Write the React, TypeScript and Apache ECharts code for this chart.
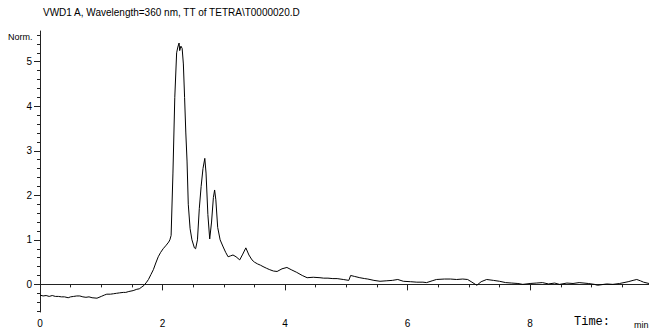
import React, { useEffect, useRef } from "react";
import * as echarts from "echarts";

const titleText = "VWD1 A, Wavelength=360 nm, TT of TETRA\\T0000020.D";
const yUnitLabel = "Norm.";
const xUnitLabel = "Time:";
const xUnitSuffix = "min";

const xLabelValues = [0, 2, 4, 6, 8];
const xMinorTicks = [0, 0.5, 1, 1.5, 2, 2.5, 3, 3.5, 4, 4.5, 5, 5.5, 6, 6.5, 7, 7.5, 8, 8.5, 9, 9.5];
const yLabelValues = [0, 1, 2, 3, 4, 5];
const yMinorTicks = [-0.6, -0.4, -0.2, 0, 0.2, 0.4, 0.6, 0.8, 1, 1.2, 1.4, 1.6, 1.8, 2, 2.2, 2.4, 2.6, 2.8, 3, 3.2, 3.4, 3.6, 3.8, 4, 4.2, 4.4, 4.6, 4.8, 5, 5.2, 5.4, 5.6];

const timeMin = [
  0.0, 0.05, 0.1, 0.15, 0.2, 0.25, 0.3, 0.35, 0.4, 0.46, 0.5, 0.55, 0.6, 0.65, 0.7, 0.75, 0.8, 0.85, 0.93, 1.0,
  1.05, 1.09, 1.15, 1.2, 1.25, 1.3, 1.36, 1.4, 1.45, 1.52, 1.58, 1.62, 1.65, 1.7, 1.74, 1.77, 1.81, 1.85, 1.89, 1.93,
  1.97, 2.01, 2.06, 2.1, 2.12, 2.14, 2.17, 2.2, 2.23, 2.25, 2.27, 2.28, 2.3, 2.32, 2.34, 2.36, 2.38, 2.4, 2.42, 2.45,
  2.48, 2.52, 2.54, 2.57, 2.6, 2.63, 2.66, 2.69, 2.71, 2.74, 2.77, 2.8, 2.83, 2.85, 2.87, 2.9, 2.94, 2.99, 3.03, 3.07,
  3.11, 3.15, 3.2, 3.26, 3.31, 3.36, 3.41, 3.46, 3.5, 3.55, 3.6, 3.64, 3.7, 3.75, 3.81, 3.87, 3.95, 4.03, 4.1, 4.19,
  4.28, 4.36, 4.46, 4.57, 4.63, 4.7, 4.78, 4.85, 4.95, 5.04, 5.07, 5.13, 5.22, 5.3, 5.35, 5.45, 5.55, 5.65, 5.75, 5.84,
  5.93, 6.05, 6.15, 6.25, 6.31, 6.4, 6.47, 6.6, 6.7, 6.8, 6.9, 6.98, 7.05, 7.13, 7.2, 7.29, 7.4, 7.5, 7.6, 7.7,
  7.8, 7.88, 8.0, 8.1, 8.2, 8.3, 8.4, 8.48, 8.6, 8.7, 8.8, 8.95, 9.05, 9.1, 9.25, 9.35, 9.46, 9.6, 9.68, 9.74,
  9.8, 9.85, 9.94
];

const signalNorm = [
  -0.24, -0.26, -0.25, -0.27, -0.25, -0.27, -0.27, -0.28, -0.28, -0.3, -0.28, -0.27, -0.26, -0.26, -0.28, -0.29, -0.28, -0.3, -0.31, -0.27,
  -0.24, -0.22, -0.22, -0.21, -0.2, -0.19, -0.18, -0.18, -0.16, -0.14, -0.11, -0.1, -0.07, -0.02, 0.05, 0.11, 0.22, 0.33, 0.48, 0.62,
  0.72, 0.8, 0.88, 0.95, 1.0, 1.1, 2.5, 4.2, 5.2, 5.33, 5.42, 5.25, 5.35, 5.3, 4.95, 4.2, 3.4, 2.77, 1.8, 1.25,
  1.0, 0.82, 0.8, 1.0, 1.7, 2.2, 2.6, 2.83, 2.5, 1.57, 1.02, 1.4, 1.95, 2.12, 1.9, 1.28, 1.0, 0.84, 0.72, 0.62,
  0.64, 0.66, 0.62, 0.55, 0.68, 0.82, 0.66, 0.55, 0.5, 0.46, 0.43, 0.4, 0.36, 0.33, 0.3, 0.29, 0.35, 0.38, 0.33, 0.27,
  0.2, 0.15, 0.16, 0.15, 0.14, 0.14, 0.13, 0.13, 0.11, 0.09, 0.2, 0.18, 0.15, 0.13, 0.12, 0.09, 0.07, 0.08, 0.09, 0.11,
  0.07, 0.06, 0.05, 0.05, 0.04, 0.08, 0.11, 0.12, 0.12, 0.11, 0.12, 0.11, 0.05, -0.02, 0.06, 0.11, 0.09, 0.07, 0.04, 0.03,
  0.02, 0.0, 0.02, 0.03, 0.04, 0.01, 0.03, 0.0, 0.03, 0.02, 0.04, 0.02, 0.0, -0.02, 0.01, 0.0, 0.02, 0.06, 0.09, 0.11,
  0.08, 0.05, 0.02
];

export default function App() {
  const ref = useRef<HTMLDivElement>(null);
  useEffect(() => {
    if (!ref.current) return;
    const chart = echarts.init(ref.current, null, { renderer: "svg" });
    const data = timeMin.map((t, i) => [t, signalNorm[i]]);
    const font = "Liberation Sans, Arial, sans-serif";
    chart.setOption({
      animation: false,
      backgroundColor: "#ffffff",
      grid: { left: 40, right: 0, top: 31, bottom: 12, containLabel: false },
      xAxis: [
        {
          type: "value",
          min: 0,
          max: 9.94,
          position: "bottom",
          axisLine: { show: true, lineStyle: { color: "#222", width: 1 } },
          axisTick: { show: true, length: 3, customValues: xMinorTicks, lineStyle: { color: "#222" } },
          axisLabel: { show: true, customValues: xLabelValues, color: "#000", fontSize: 10, fontFamily: font, margin: 6 },
          splitLine: { show: false },
        },
        {
          type: "value",
          min: 0,
          max: 9.94,
          position: "bottom",
          axisLine: { show: false },
          axisTick: { show: true, length: 6, customValues: xLabelValues, lineStyle: { color: "#222" } },
          axisLabel: { show: false },
          splitLine: { show: false },
        },
      ],
      yAxis: [
        {
          type: "value",
          min: -0.62,
          max: 5.69,
          position: "left",
          axisLine: { show: true, lineStyle: { color: "#222", width: 1 } },
          axisTick: { show: true, length: 3, customValues: yMinorTicks, lineStyle: { color: "#222" } },
          axisLabel: { show: true, customValues: yLabelValues, color: "#000", fontSize: 10, fontFamily: font, margin: 8 },
          splitLine: { show: false },
        },
        {
          type: "value",
          min: -0.62,
          max: 5.69,
          position: "left",
          axisLine: { show: false },
          axisTick: { show: true, length: 6, customValues: yLabelValues, lineStyle: { color: "#222" } },
          axisLabel: { show: false },
          splitLine: { show: false },
        },
      ],
      graphic: [
        {
          type: "text",
          left: 43,
          top: 7,
          style: { text: titleText, fontSize: 10, fontFamily: font, fill: "#000" },
        },
        {
          type: "text",
          left: 8,
          top: 32,
          style: { text: yUnitLabel, fontSize: 9, fontFamily: font, fill: "#000" },
        },
        {
          type: "text",
          left: 574,
          top: 316,
          style: { text: xUnitLabel, fontSize: 12, fontFamily: "Courier New, Liberation Mono, monospace", fill: "#000" },
        },
        {
          type: "text",
          left: 634,
          top: 320,
          style: { text: xUnitSuffix, fontSize: 9, fontFamily: font, fill: "#000" },
        },
      ],
      series: [
        {
          type: "line",
          xAxisIndex: 0,
          yAxisIndex: 0,
          data,
          showSymbol: false,
          symbol: "none",
          lineStyle: { color: "#000", width: 1 },
        },
      ],
    });
    return () => chart.dispose();
  }, []);
  return (
    <div
      ref={ref}
      style={{ position: "fixed", left: 0, top: 0, width: 649, height: 328, background: "#fff" }}
    />
  );
}
